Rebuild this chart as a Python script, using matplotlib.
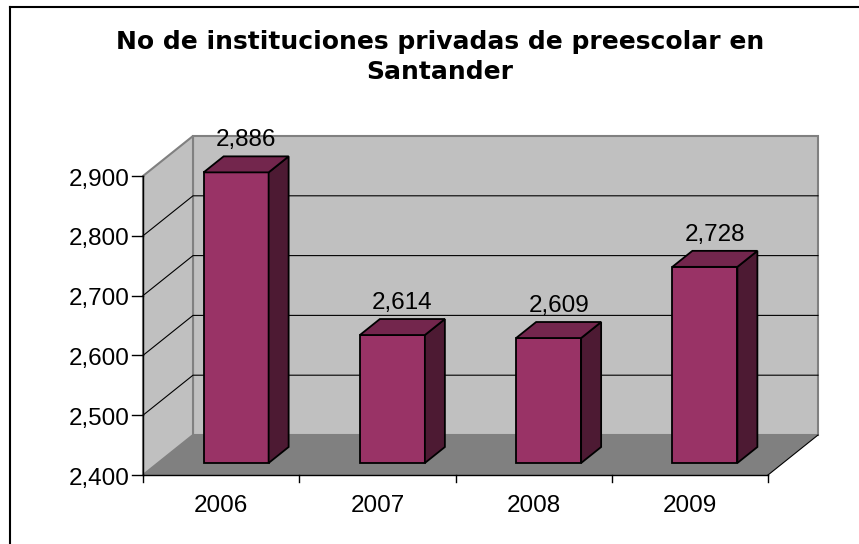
import matplotlib
matplotlib.use('Agg')
import matplotlib.pyplot as plt
from matplotlib.patches import Polygon
from matplotlib.lines import Line2D
from matplotlib.transforms import offset_copy

# ---------------- data ----------------
years = ['2006', '2007', '2008', '2009']
values = [2886, 2614, 2609, 2728]
y_ticks = [2400, 2500, 2600, 2700, 2800, 2900]
title = 'No de instituciones privadas de preescolar en\nSantander'

# ---------------- layout (pixels) ----------------
W, H = 859, 544
AX_L, AX_R = 143, 768      # front x-axis extent
AX_B, AX_T = 475, 176      # front y-axis extent
DEPTH_X, DEPTH_Y = 50, 40  # 3-D depth offset
BAR_FRONT, BAR_BACK = 0.3, 0.7
BAR_W = 0.416

FRONT_C = '#993366'
TOP_C = '#73264d'
SIDE_C = '#4d1a33'
WALL_C = '#c0c0c0'
FLOOR_C = '#808080'
WALL_EDGE = '#808080'

FONT = 'Liberation Sans'

fig = plt.figure(figsize=(W / 100, H / 100), dpi=100)
ax = fig.add_axes([0, 0, 1, 1])
ax.axis('off')

n = len(years)
ymin, ymax = y_ticks[0], y_ticks[-1]
cat = (AX_R - AX_L) / n
vpp = (AX_B - AX_T) / (ymax - ymin)
ax.set_xlim(-0.5 - AX_L / cat, -0.5 + (W - AX_L) / cat)
ax.set_ylim(ymin - (H - AX_B) / vpp, ymin + AX_B / vpp)
DX = DEPTH_X / cat
DY = DEPTH_Y / vpp
x0, x1 = -0.5, n - 0.5

# walls and floor
ax.add_patch(Polygon([(x0 + DX, ymin + DY), (x1 + DX, ymin + DY),
                      (x1 + DX, ymax + DY), (x0 + DX, ymax + DY)],
                     closed=True, fc=WALL_C, ec=WALL_EDGE, lw=1.5, zorder=1))
ax.add_patch(Polygon([(x0, ymin), (x0 + DX, ymin + DY),
                      (x0 + DX, ymax + DY), (x0, ymax)],
                     closed=True, fc=WALL_C, ec=WALL_EDGE, lw=1.5, zorder=1))
ax.add_patch(Polygon([(x0, ymin), (x1, ymin), (x1 + DX, ymin + DY), (x0 + DX, ymin + DY)],
                     closed=True, fc=FLOOR_C, ec='none', zorder=2))

# gridlines
for t in y_ticks[1:-1]:
    ax.plot([x0, x0 + DX, x1 + DX], [t, t + DY, t + DY], color='black', lw=0.8, zorder=3)
ax.plot([x1, x1 + DX], [ymin, ymin + DY], color='black', lw=0.8, zorder=3)

# axes lines and ticks
ax.plot([x0, x0], [ymin, ymax], color='black', lw=1.0, zorder=4)
ax.plot([x0, x1], [ymin, ymin], color='black', lw=1.0, zorder=4)
for t in y_ticks:
    ax.plot([x0 - 11 / cat, x0], [t, t], color='black', lw=1.0, zorder=4)
for k in range(n + 1):
    ax.plot([x0 + k, x0 + k], [ymin, ymin - 7 / vpp], color='black', lw=1.0, zorder=4)

# bars
ddx = (BAR_BACK - BAR_FRONT) * DX
ddy = (BAR_BACK - BAR_FRONT) * DY
for i, v in enumerate(values):
    l = i - BAR_W / 2 + BAR_FRONT * DX
    r = i + BAR_W / 2 + BAR_FRONT * DX
    b = ymin + BAR_FRONT * DY
    tp = v + BAR_FRONT * DY
    kw = dict(closed=True, ec='black', lw=1.3, joinstyle='miter', zorder=5)
    ax.add_patch(Polygon([(l, b), (r, b), (r, tp), (l, tp)], fc=FRONT_C, **kw))
    ax.add_patch(Polygon([(r, b), (r + ddx, b + ddy), (r + ddx, tp + ddy), (r, tp)], fc=SIDE_C, **kw))
    ax.add_patch(Polygon([(l, tp), (r, tp), (r + ddx, tp + ddy), (l + ddx, tp + ddy)], fc=TOP_C, **kw))
    ax.text(i + (BAR_FRONT + BAR_BACK) / 2 * DX, v + BAR_BACK * DY, f'{v:,}',
            transform=offset_copy(ax.transData, fig=fig, x=0, y=10, units='dots'),
            ha='center', va='baseline', fontsize=17.5, family=FONT, color='black', zorder=6)

# tick labels
for t in y_ticks:
    ax.text(x0, t, f'{t:,}',
            transform=offset_copy(ax.transData, fig=fig, x=-13, y=-9.5, units='dots'),
            ha='right', va='baseline', fontsize=17.5, family=FONT, color='black')
for i, yr in enumerate(years):
    ax.text(i, ymin, yr,
            transform=offset_copy(ax.transData, fig=fig, x=0, y=-37, units='dots'),
            ha='center', va='baseline', fontsize=17.5, family=FONT, color='black')

# title (baseline of last line)
fig.text(440 / W, 1 - 79 / H, title, ha='center', va='baseline', fontsize=18,
         fontweight='bold', family='DejaVu Sans', color='black', linespacing=1.3)

# chart area border (top and left visible)
fig.add_artist(Line2D([10 / W, 10 / W], [1 - 7 / H, 0], color='black', lw=1.5,
                      transform=fig.transFigure))
fig.add_artist(Line2D([10 / W, 1], [1 - 7 / H, 1 - 7 / H], color='black', lw=1.5,
                      transform=fig.transFigure))

fig.savefig('out.png', dpi=100)
